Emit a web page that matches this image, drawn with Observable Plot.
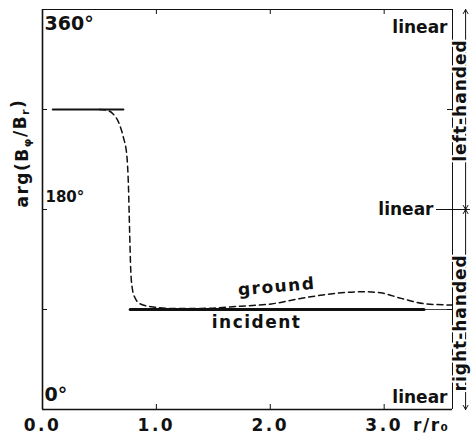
<!DOCTYPE html>
<html><head><meta charset="utf-8">
<script src="https://cdn.jsdelivr.net/npm/d3@7"></script>
<script src="https://cdn.jsdelivr.net/npm/@observablehq/plot@0.6"></script>
<style>
body{margin:0;background:#fff}
svg text{font-family:"DejaVu Sans",sans-serif;font-weight:bold}
g[aria-label="x-axis tick label"] text{letter-spacing:2.5px}
.sp text{letter-spacing:1.5px}
.hand text{letter-spacing:1px}
</style></head><body><div id="chart"></div>
<script>
// data
const xTicks = [0, 1, 2, 3];
const xTickLabels = ["0.0", "1.0", "2.0", "3.0"];
const yTicksInner = [90, 180, 270];
const degLabels = ["0°", "180°", "360°"];
const degValues = [0, 180, 360];
const groundR   = [0.50, 0.56, 0.62, 0.67, 0.71, 0.74, 0.755, 0.765, 0.775, 0.79, 0.81, 0.86, 0.99, 1.13, 1.39, 1.74, 2.01, 2.27, 2.53, 2.80, 2.97, 3.15, 3.37, 3.60];
const groundArg = [270, 269.5, 266, 258, 245, 229, 200, 160, 125, 108, 101, 95, 92, 91, 91, 93, 95, 100, 104, 106, 105, 100, 95, 94];
const leftR = [0.09, 0.71];
const leftArg = [270, 270];
const incidentR = [0.77, 3.35];
const incidentArg = [90, 90];
const incidentTailR = [3.35, 3.60];
const annX = 3.715;
const handLabels = ["left-handed", "right-handed"];
const handCenters = [278, 78];
const arrowFrom = [278, 278, 78, 78];
const arrowTo = [360, 180, 180, 0];

const ground = groundR.map((r, i) => ({r, a: groundArg[i]}));
const leftLine = leftR.map((r, i) => ({r, a: leftArg[i]}));
const incident = incidentR.map((r, i) => ({r, a: incidentArg[i]}));
const tail = incidentTailR.map(r => ({r, a: 90}));
const arrows = arrowFrom.map((f, i) => ({f, t: arrowTo[i]}));
const hands = handLabels.map((t, i) => ({t, a: handCenters[i]}));
const deg = degLabels.map((t, i) => ({t, a: degValues[i]}));

const chart = Plot.plot({
  width: 471, height: 434,
  marginLeft: 42, marginRight: 19, marginTop: 9, marginBottom: 25,
  x: {domain: [0, 3.6], axis: null},
  y: {domain: [0, 360], axis: null},
  style: {background: "#fff", color: "#111"},
  marks: [
    // frame
    Plot.ruleX([0], {strokeWidth: 1.6}),
    Plot.ruleX([3.6], {strokeWidth: 1}),
    Plot.ruleY([0], {strokeWidth: 1.6}),
    Plot.ruleY([360], {strokeWidth: 1}),
    // inward ticks
    Plot.ruleX(xTicks.slice(1), {insetTop: 395, strokeWidth: 1}),
    Plot.ruleX(xTicks.slice(1), {insetBottom: 395, strokeWidth: 1}),
    Plot.ruleY(yTicksInner, {insetRight: 405, strokeWidth: 1}),
    Plot.ruleY(yTicksInner, {insetLeft: 405, strokeWidth: 1}),
    // x tick labels
    Plot.axisX(xTicks, {tickSize: 0, tickPadding: 9, fontSize: 17, tickFormat: (d, i) => xTickLabels[i], label: null}),
    Plot.text(["r/r₀"], {frameAnchor: "bottom-right", dx: -3, dy: 21, lineAnchor: "bottom", textAnchor: "end", fontSize: 17, className: "sp"}),
    // lines
    Plot.line(leftLine, {x: "r", y: "a", strokeWidth: 2}),
    Plot.line(incident, {x: "r", y: "a", strokeWidth: 3}),
    Plot.line(tail, {x: "r", y: "a", strokeWidth: 0.8}),
    Plot.line(ground, {x: "r", y: "a", curve: "monotone-x", strokeWidth: 1.5, strokeDasharray: "6,4"}),
    // curve labels
    Plot.text(["ground"], {x: [2.06], y: [102], text: d => d, rotate: -5, fontSize: 17, lineAnchor: "bottom", dy: -4, className: "sp"}),
    Plot.text(["incident"], {x: [1.88], y: [90], text: d => d, fontSize: 17, lineAnchor: "top", dy: 6, className: "sp"}),
    // degree labels inside
    Plot.text(deg.filter(d => d.a === 360), {x: 0, y: "a", text: "t", textAnchor: "start", lineAnchor: "top", dx: 2, dy: 7, fontSize: 19}),
    Plot.text(deg.filter(d => d.a === 180), {x: 0, y: "a", text: "t", textAnchor: "start", lineAnchor: "bottom", dx: 3, dy: -8, fontSize: 15}),
    Plot.text(deg.filter(d => d.a === 0), {x: 0, y: "a", text: "t", textAnchor: "start", lineAnchor: "bottom", dx: 2, dy: -9, fontSize: 19}),
    // linear labels
    Plot.text([360], {x: 3.6, y: d => d, text: () => "linear", textAnchor: "end", lineAnchor: "bottom", dx: -5, dy: 23, fontSize: 17}),
    Plot.text([0], {x: 3.6, y: d => d, text: () => "linear", textAnchor: "end", lineAnchor: "bottom", dx: -5, dy: -7, fontSize: 17}),
    Plot.text([180], {x: 3.6, y: d => d, text: () => "linear", textAnchor: "end", lineAnchor: "middle", dx: -19, fontSize: 17}),
    Plot.ruleY([180], {insetLeft: 394, insetRight: -18, strokeWidth: 1}),
    // arrows at right
    Plot.arrow(arrows, {x1: annX, x2: annX, y1: "f", y2: "t", headLength: 7, strokeWidth: 1, inset: 0}),
    Plot.text(hands, {x: annX, y: "a", text: "t", rotate: -90, lineAnchor: "bottom", dx: 0, fontSize: 17, stroke: "white", strokeWidth: 4, fill: "#111", className: "hand"}),
    // y label
    Plot.text(["arg(Bφ/Br)"], {frameAnchor: "left", dx: -20, dy: -2, rotate: -90, lineAnchor: "middle", fontSize: 17, className: "sp"})
  ]
});
document.getElementById("chart").appendChild(chart);

// subscripts in the y label
d3.select(chart).selectAll("text").each(function() {
  const t = d3.select(this);
  if (t.text() === "arg(Bφ/Br)") {
    t.text(null);
    t.append("tspan").text("arg(B");
    t.append("tspan").attr("font-size", "65%").attr("dy", "0.3em").text("φ");
    t.append("tspan").attr("dy", "-0.3em").text("/B");
    t.append("tspan").attr("font-size", "65%").attr("dy", "0.3em").text("r");
    t.append("tspan").attr("dy", "-0.3em").text(")");
  }
});
</script></body></html>
